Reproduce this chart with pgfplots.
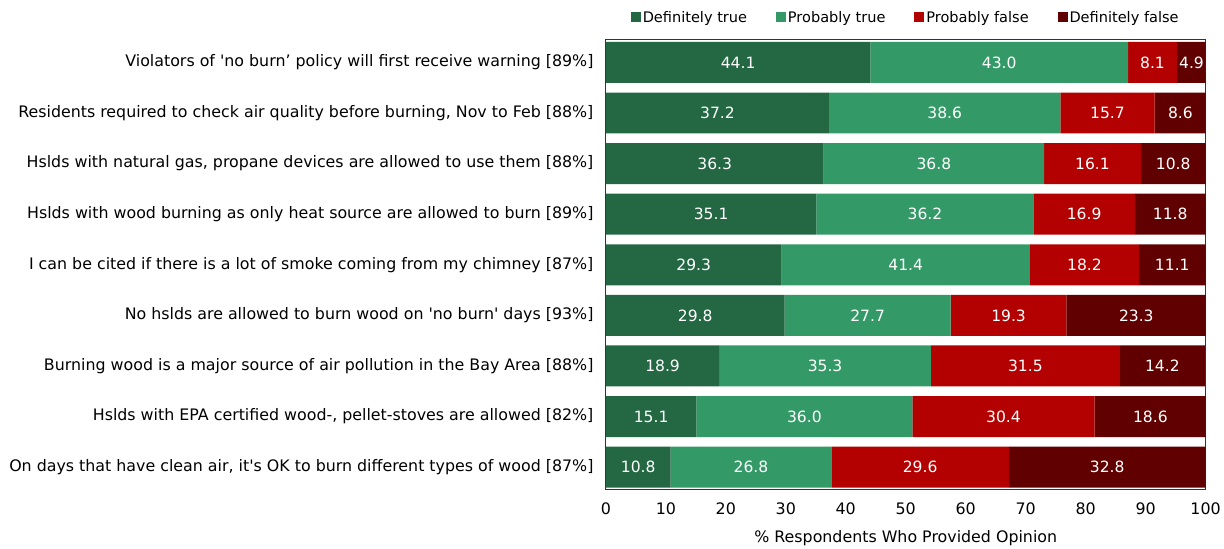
\documentclass[border=0pt]{standalone}
\usepackage{pgfplots}
\usepackage{pgfplotstable}
\pgfplotsset{compat=1.18}
\usepackage{fontspec}
\setmainfont{DejaVu Sans}
\definecolor{dtrue}{HTML}{236843}
\definecolor{ptrue}{HTML}{339966}
\definecolor{pfalse}{HTML}{B30000}
\definecolor{dfalse}{HTML}{610000}

\pgfplotstableread{
row dt pt pf df
0 44.1 43.0 8.1 4.9
1 37.2 38.6 15.7 8.6
2 36.3 36.8 16.1 10.8
3 35.1 36.2 16.9 11.8
4 29.3 41.4 18.2 11.1
5 29.8 27.7 19.3 23.3
6 18.9 35.3 31.5 14.2
7 15.1 36.0 30.4 18.6
8 10.8 26.8 29.6 32.8
}\opinions
% label positions: middle of each segment
\pgfplotstablecreatecol[create col/expr={\thisrow{dt}/2}]{cdt}\opinions
\pgfplotstablecreatecol[create col/expr={\thisrow{dt}+\thisrow{pt}/2}]{cpt}\opinions
\pgfplotstablecreatecol[create col/expr={\thisrow{dt}+\thisrow{pt}+\thisrow{pf}/2}]{cpf}\opinions
\pgfplotstablecreatecol[create col/expr={\thisrow{dt}+\thisrow{pt}+\thisrow{pf}+\thisrow{df}/2}]{cdf}\opinions

\pgfplotsset{
    common/.style={
        scale only axis,
        width=602pt, height=452pt,
        xmin=0, xmax=100,
        ymin=-0.45, ymax=8.45,
        y dir=reverse,
    },
}

\begin{document}
\begin{tikzpicture}[font=\fontsize{15.9}{18}\selectfont]
\begin{axis}[
    common,
    xbar stacked,
    bar width=0.81,
    xtick={0,10,...,100},
    ytick={0,...,8},
    yticklabels={
        {Violators of \textquotesingle no burn' policy will first receive warning [89\%]},
        {Residents required to check air quality before burning, Nov to Feb [88\%]},
        {Hslds with natural gas, propane devices are allowed to use them [88\%]},
        {Hslds with wood burning as only heat source are allowed to burn [89\%]},
        {I can be cited if there is a lot of smoke coming from my chimney [87\%]},
        {No hslds are allowed to burn wood on \textquotesingle no burn\textquotesingle{} days [93\%]},
        {Burning wood is a major source of air pollution in the Bay Area [88\%]},
        {Hslds with EPA certified wood-, pellet-stoves are allowed [82\%]},
        {On days that have clean air, it\textquotesingle s OK to burn different types of wood [87\%]}
    },
    major tick style={draw=none},
    /pgf/number format/assume math mode=true,
    xticklabel style={yshift=-9pt},
    yticklabel style={xshift=-9pt},
    xlabel={\% Respondents Who Provided Opinion},
    xlabel style={yshift=-9pt},
    axis line style={black!80, line width=0.8pt},
    legend style={at={(0.5,1)}, anchor=south, yshift=14pt, legend columns=4,
        draw=none, fill=none, inner sep=0pt, font=\fontsize{14.6}{17}\selectfont,
        /tikz/every even column/.append style={column sep=27pt}},
    legend image code/.code={\fill[#1] (0pt,-4.5pt) rectangle (10pt,5.5pt);},
]
\addplot[fill=dtrue, draw=none] table[x=dt, y=row] {\opinions};
\addlegendentry{Definitely true}
\addplot[fill=ptrue, draw=none] table[x=pt, y=row] {\opinions};
\addlegendentry{Probably true}
\addplot[fill=pfalse, draw=none] table[x=pf, y=row] {\opinions};
\addlegendentry{Probably false}
\addplot[fill=dfalse, draw=none] table[x=df, y=row] {\opinions};
\addlegendentry{Definitely false}
\end{axis}
\begin{axis}[
    common,
    hide axis,
    nodes near coords={\pgfmathprintnumber[fixed,fixed zerofill,precision=1,assume math mode=true]{\pgfplotspointmeta}},
    point meta=explicit,
    every node near coord/.append style={font=\fontsize{15.6}{18}\selectfont, text=white, anchor=center},
]
\addplot[draw=none, mark=none] table[x=cdt, y=row, meta=dt] {\opinions};
\addplot[draw=none, mark=none] table[x=cpt, y=row, meta=pt] {\opinions};
\addplot[draw=none, mark=none] table[x=cpf, y=row, meta=pf] {\opinions};
\addplot[draw=none, mark=none] table[x=cdf, y=row, meta=df] {\opinions};
\end{axis}
\path (current bounding box.north west) ++(-6pt,9pt);
\end{tikzpicture}
\end{document}
